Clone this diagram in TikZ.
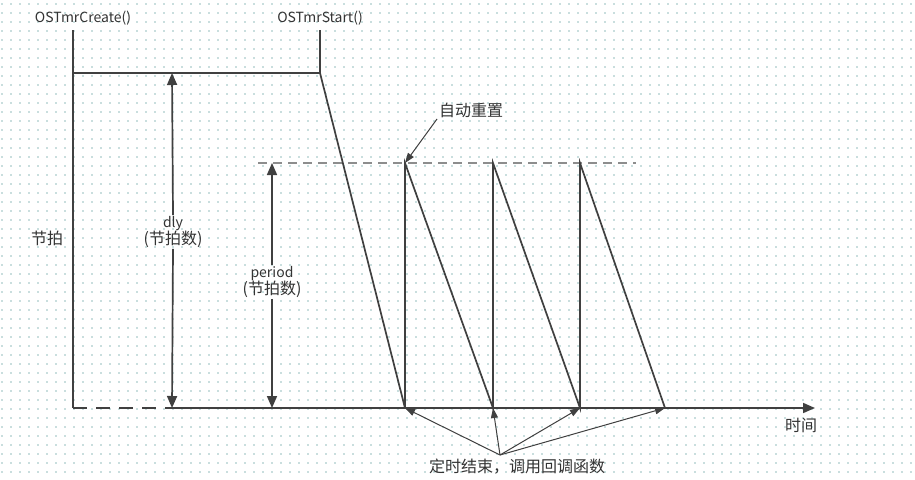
\documentclass[tikz,border=0pt]{standalone}
\usepackage{fontspec}
\setmainfont{Noto Sans CJK SC}
\usetikzlibrary{arrows.meta}
\definecolor{linegray}{HTML}{404040}
\definecolor{dotteal}{HTML}{93BDBD}
\newcommand{\pt}[3]{\coordinate (#1) at ( #2 , #3 );}
\newcommand{\lbl}[4]{\node[shape=rectangle,draw=none,fill=none,inner sep=1pt,align=center,text=black!80] (#1) at ( #2 , #3 ) {#4};}
\newcommand{\zh}[1]{{\fontsize{16}{19}\selectfont #1}}
\tikzset{
  wire/.style={draw=linegray,line width=1.7pt},
  tip/.style={-{Triangle[length=12pt,width=10pt]}},
  thin tip/.style={-{Triangle[length=10pt,width=7pt]}},
}

\begin{document}
\begin{tikzpicture}[x=1pt,y=-1pt,font=\fontsize{14}{17}\selectfont]
        \useasboundingbox (0,0) rectangle (915,479);
        \fill[white] (0,0) rectangle (915,479);
        % dotted grid
        \foreach \y in {4,13,...,479}
          \draw[dotteal,line width=1.6pt,line cap=round,dash pattern=on 0pt off 9pt] (2,\y) -- (915,\y);

        % points
        \pt{c0}{73}{30}
        \pt{c1}{73}{73}
        \pt{c2}{73}{408}
        \pt{s0}{320}{30}
        \pt{s1}{320}{73}
        \pt{d0}{172}{73}
        \pt{d1}{172}{408}
        \pt{p0}{272}{163}
        \pt{p1}{272}{408}
        \pt{r0}{258}{163}
        \pt{r1}{636}{163}
        \pt{ax}{815}{408}
        % teeth
        \pt{t1}{405}{163}
        \pt{t2}{493}{163}
        \pt{t3}{580}{163}
        \pt{b1}{405}{408}
        \pt{b2}{493}{408}
        \pt{b3}{580}{408}
        \pt{b4}{665}{408}

        % labels
        \lbl{create}{83}{18}{OSTmrCreate()}
        \lbl{start}{320}{18}{OSTmrStart()}
        \lbl{jiepai}{47}{238}{\zh{节拍}}
        \lbl{dly}{173}{232}{dly\\\zh{(节拍数)}}
        \lbl{period}{272}{282}{period\\\zh{(节拍数)}}
        \lbl{reset}{471}{110}{\zh{自动重置}}
        \lbl{shijian}{801}{425}{\zh{时间}}
        \lbl{finish}{517}{467}{\zh{定时结束，调用回调函数}}
        \coordinate (fin) at (500,455);
        \coordinate (rs) at (437,119);

        % reload line
        \draw[linegray!60,line width=1.4pt,dash pattern=on 9pt off 6pt] (r0) -- (r1);

        % timer frame
        \draw[wire] (c0) -- (c2);
        \draw[wire] (c1) -- (s1);
        \draw[wire] (s0) -- (s1) -- (b1);
        \draw[wire,dash pattern=on 14pt off 9pt] (c2) -- (d1);
        \draw[wire,tip] (d1) -- (ax);

        % dly / period
        \draw[wire,tip] (dly.north) -- (d0);
        \draw[wire,tip] (dly.south) -- (d1);
        \draw[wire,tip] (period.north) -- (p0);
        \draw[wire,tip] (period.south) -- (p1);

        % sawtooth
        \draw[wire] (b1) -- (t1) -- (b2) -- (t2) -- (b3) -- (t3) -- (b4);

        % callouts
        \draw[linegray,line width=1pt,thin tip] (rs) -- (t1);
        \foreach \b in {b1,b2,b3,b4}
          \draw[linegray,line width=1pt,thin tip] (fin) -- (\b);

    \end{tikzpicture}
\end{document}
